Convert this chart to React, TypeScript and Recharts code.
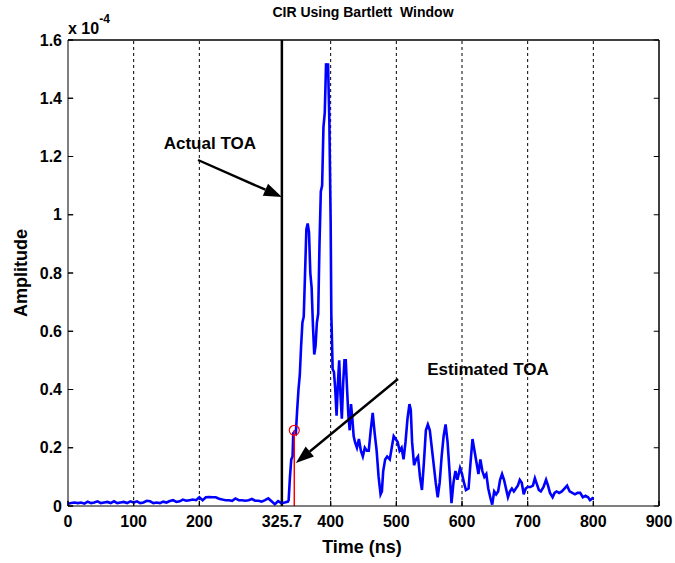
import React from "react";
import {
  LineChart,
  Line,
  XAxis,
  YAxis,
  ReferenceLine,
  ReferenceDot,
} from "recharts";

// time axis (ns) and amplitude (x 1e-4)
const times = [
  0, 5, 10, 15, 20, 25, 30, 35, 40, 45, 50, 55, 60, 65, 70, 75, 80, 85, 90, 95,
  100, 105, 110, 115, 120, 125, 130, 135, 140, 145, 150, 155, 160, 165, 170, 175,
  180, 185, 190, 195, 200, 205, 210, 215, 220, 225, 230, 235, 240, 245, 250, 255,
  260, 265, 270, 275, 280, 285, 290, 295, 300, 305, 310, 315, 320, 325, 330, 335,
  336, 338, 340, 342, 343, 345, 347, 349, 351, 353, 355, 357, 359, 361, 363, 365,
  367, 369, 371, 373, 375, 377, 379, 381, 383, 385, 387, 389, 391, 393, 395, 396,
  398, 400, 401, 403, 405, 407, 409, 411, 413, 415, 417, 419, 421, 423, 425, 427,
  429, 431, 433, 435, 437, 440, 443, 446, 449, 452, 455, 458, 461, 464, 467, 470,
  473, 476, 478, 480, 483, 486, 490, 493, 496, 499, 502, 505, 508, 511, 514, 517,
  520, 522, 524, 527, 530, 533, 536, 539, 542, 545, 548, 551, 554, 557, 560, 563,
  566, 569, 572, 575, 578, 581, 584, 587, 590, 593, 597, 600, 603, 606, 610, 613,
  616, 619, 622, 625, 628, 631, 634, 637, 640, 643, 646, 649, 652, 655, 658, 661,
  664, 667, 670, 673, 676, 679, 682, 685, 688, 691, 694, 697, 700, 704, 708, 711,
  714, 717, 720, 724, 728, 731, 734, 738, 741, 744, 748, 752, 756, 760, 764, 768,
  772, 776, 780, 784, 788, 792, 795, 798, 800,
];

const amplitude = [
  0.008, 0.01, 0.012, 0.01, 0.012, 0.008, 0.015, 0.01, 0.012, 0.016, 0.01, 0.012,
  0.014, 0.01, 0.016, 0.01, 0.012, 0.014, 0.01, 0.016, 0.012, 0.016, 0.01, 0.012,
  0.018, 0.016, 0.01, 0.012, 0.01, 0.015, 0.012, 0.017, 0.02, 0.014, 0.016, 0.022,
  0.018, 0.02, 0.022, 0.02, 0.03, 0.02, 0.03, 0.031, 0.03, 0.03, 0.025, 0.022,
  0.02, 0.02, 0.018, 0.026, 0.02, 0.02, 0.018, 0.02, 0.024, 0.018, 0.018, 0.015,
  0.02, 0.026, 0.016, 0.006, 0.017, 0.01, 0.012, 0.015,
  0.02, 0.1, 0.16, 0.17, 0.25, 0.255, 0.25, 0.33, 0.4, 0.45, 0.55, 0.63, 0.65,
  0.8, 0.95, 0.97, 0.94, 0.8, 0.75, 0.62, 0.52, 0.55, 0.63, 0.66, 0.9, 1.08, 1.1,
  1.3, 1.35, 1.52, 1.5, 1.52, 1.32, 0.97, 0.66, 0.47, 0.46, 0.4, 0.31, 0.42, 0.5,
  0.38, 0.3, 0.42, 0.5, 0.5, 0.4, 0.31, 0.26, 0.35, 0.3, 0.24, 0.22, 0.2, 0.23,
  0.19, 0.17, 0.2, 0.19, 0.19, 0.26, 0.32, 0.25, 0.19, 0.1, 0.04, 0.05, 0.12,
  0.16, 0.17, 0.16, 0.2, 0.24, 0.23, 0.22, 0.19, 0.2, 0.16, 0.22, 0.3, 0.35, 0.33,
  0.22, 0.14, 0.16, 0.17, 0.1, 0.055, 0.15, 0.26, 0.28, 0.26, 0.2, 0.14, 0.08,
  0.03, 0.08, 0.17, 0.24, 0.28, 0.22, 0.12, 0.01, 0.08, 0.12, 0.09, 0.13, 0.11,
  0.08, 0.055, 0.06, 0.15, 0.23, 0.19, 0.15, 0.11, 0.16, 0.12, 0.1, 0.11, 0.06,
  0.03, 0.005, 0.05, 0.04, 0.05, 0.09, 0.11, 0.09, 0.06, 0.03, 0.05, 0.06, 0.05,
  0.06, 0.07, 0.09, 0.08, 0.04, 0.06, 0.065, 0.065, 0.07, 0.095, 0.075, 0.055,
  0.05, 0.065, 0.09, 0.07, 0.045, 0.03, 0.045, 0.05, 0.045, 0.05, 0.06, 0.07,
  0.05, 0.045, 0.04, 0.045, 0.045, 0.03, 0.035, 0.03, 0.02, 0.025, 0.03,
];

const xTicks = [0, 100, 200, 325.7, 400, 500, 600, 700, 800, 900];
const yTicks = [0, 0.2, 0.4, 0.6, 0.8, 1, 1.2, 1.4, 1.6];
const gridX = [100, 200, 400, 500, 600, 700, 800];

const X_MAX = 900;
const Y_MAX = 1.6;
const actualToa = 325.7;
const estimatedToa = { t: 344.6, a: 0.26 };

const data = times.map((t, i) => ({ t, a: amplitude[i] }));

const FONT = "'Liberation Sans', Arial, sans-serif";

const arrowShape = (props: any) => {
  const { x1, y1, x2, y2 } = props;
  const ang = Math.atan2(y2 - y1, x2 - x1);
  const len = 18;
  const half = 6.5;
  const bx = x2 - len * Math.cos(ang);
  const by = y2 - len * Math.sin(ang);
  const px = -Math.sin(ang) * half;
  const py = Math.cos(ang) * half;
  return (
    <g>
      <line x1={x1} y1={y1} x2={bx} y2={by} stroke="#000" strokeWidth={2.4} />
      <polygon
        points={`${x2},${y2} ${bx + px},${by + py} ${bx - px},${by - py}`}
        fill="#000"
      />
    </g>
  );
};

const textShape = (label: string) => (props: any) => (
  <text
    x={props.cx}
    y={props.cy}
    textAnchor="middle"
    fontFamily={FONT}
    fontWeight="bold"
    fontSize={17}
    fill="#000"
  >
    {label}
  </text>
);

// short inward tick on the right / top frame edges
const tickSeg = (props: any) => (
  <line x1={props.x1} y1={props.y1} x2={props.x2} y2={props.y2} stroke="#000" strokeWidth={1} />
);

const fmtY = (v: number) => (v === 0 || v === 1 ? String(v) : v.toFixed(1));

export default function App() {
  const tickStyle = { fill: "#000", fontSize: 16, fontWeight: "bold", fontFamily: FONT };
  return (
    <div
      style={{
        position: "absolute",
        left: 0,
        top: 0,
        width: 675,
        height: 563,
        background: "#fff",
      }}
    >
      <LineChart
        width={675}
        height={563}
        data={data}
        margin={{ top: 40, right: 16, bottom: 0, left: 0 }}
      >
        <XAxis
          dataKey="t"
          type="number"
          domain={[0, X_MAX]}
          ticks={xTicks}
          interval={0}
          height={57}
          tickSize={-5}
          tickMargin={15}
          stroke="#000"
          tick={tickStyle}
        />
        <YAxis
          type="number"
          domain={[0, Y_MAX]}
          ticks={yTicks}
          interval={0}
          width={68}
          tickSize={-5}
          tickMargin={11}
          tickFormatter={fmtY}
          stroke="#000"
          tick={tickStyle}
        />
        {gridX.map((x) => (
          <ReferenceLine
            key={x}
            x={x}
            stroke="#000"
            strokeWidth={1}
            strokeDasharray="3 3"
          />
        ))}
        <ReferenceLine y={Y_MAX} stroke="#000" strokeWidth={1.5} />
        <ReferenceLine x={X_MAX} stroke="#000" strokeWidth={1.5} />
        {yTicks.map((y) => (
          <ReferenceLine
            key={`ry${y}`}
            segment={[
              { x: X_MAX - 8, y },
              { x: X_MAX, y },
            ]}
            shape={tickSeg}
          />
        ))}
        {yTicks.map((y) => (
          <ReferenceLine
            key={`ly${y}`}
            segment={[
              { x: 0, y },
              { x: 8, y },
            ]}
            shape={tickSeg}
          />
        ))}
        {xTicks.map((x) => (
          <ReferenceLine
            key={`bx${x}`}
            segment={[
              { x, y: 0 },
              { x, y: 0.018 },
            ]}
            shape={tickSeg}
          />
        ))}
        <ReferenceLine x={actualToa} stroke="#000" strokeWidth={2.5} />
        <Line
          type="linear"
          dataKey="a"
          stroke="#0000ff"
          strokeWidth={2.6}
          dot={false}
          isAnimationActive={false}
        />
        <ReferenceLine
          segment={[
            { x: estimatedToa.t, y: 0 },
            { x: estimatedToa.t, y: estimatedToa.a },
          ]}
          stroke="#ff0000"
          strokeWidth={1.5}
        />
        <ReferenceDot
          x={estimatedToa.t}
          y={estimatedToa.a}
          r={5}
          fill="none"
          stroke="#ff0000"
          strokeWidth={1.2}
        />
        <ReferenceLine
          segment={[
            { x: 198, y: 1.188 },
            { x: actualToa, y: 1.061 },
          ]}
          shape={arrowShape}
        />
        <ReferenceLine
          segment={[
            { x: 502.5, y: 0.436 },
            { x: 347, y: 0.148 },
          ]}
          shape={arrowShape}
        />
        <ReferenceDot x={216} y={1.226} r={0} shape={textShape("Actual TOA")} />
        <ReferenceDot x={639.6} y={0.45} r={0} shape={textShape("Estimated TOA")} />
      </LineChart>
      <svg
        width={675}
        height={563}
        style={{ position: "absolute", left: 0, top: 0, pointerEvents: "none" }}
      >
        <text
          x={363}
          y={17}
          textAnchor="middle"
          fontFamily={FONT}
          fontWeight="bold"
          fontSize={14}
          style={{ whiteSpace: "pre" }}
        >
          CIR Using Bartlett  Window
        </text>
        <text x={68} y={34} fontFamily={FONT} fontWeight="bold" fontSize={16}>
          x 10
          <tspan dy={-11} fontSize={12}>
            -4
          </tspan>
        </text>
        <text
          x={0}
          y={0}
          transform="translate(27 273) rotate(-90)"
          textAnchor="middle"
          fontFamily={FONT}
          fontWeight="bold"
          fontSize={18}
        >
          Amplitude
        </text>
        <text
          x={362}
          y={553}
          textAnchor="middle"
          fontFamily={FONT}
          fontWeight="bold"
          fontSize={18}
        >
          Time (ns)
        </text>
      </svg>
    </div>
  );
}
